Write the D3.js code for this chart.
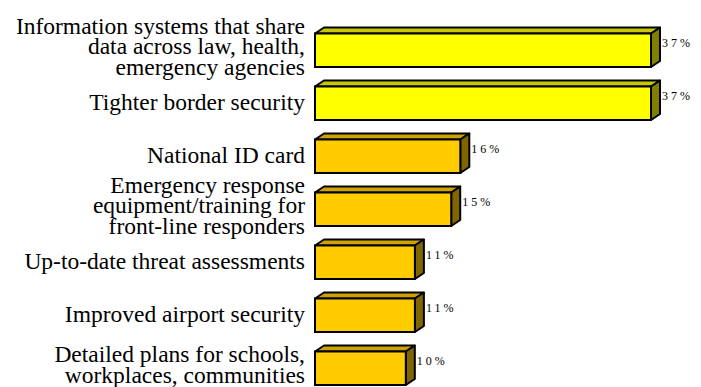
<!DOCTYPE html>
<html>
<head>
<meta charset="utf-8">
<script src="https://cdn.jsdelivr.net/npm/d3@7"></script>
<style>
  body { margin: 0; background: #fff; }
  svg { display: block; }
  text { font-family: "Liberation Serif", "Times New Roman", serif; fill: #000; }
</style>
</head>
<body>
<svg id="chart" width="701" height="387"></svg>
<script>
const categories = [
  'Information systems that share|data across law, health,|emergency agencies',
  'Tighter border security',
  'National ID card',
  'Emergency response|equipment/training for|front-line responders',
  'Up-to-date threat assessments',
  'Improved airport security',
  'Detailed plans for schools,|workplaces, communities'
];
const values = [37, 37, 16, 15, 11, 11, 10];
const highlight = [true, true, false, false, false, false, false];

const svg = d3.select('#chart');

const x = d3.scaleLinear().domain([0, 37]).range([315, 651]);
const y = d3.scaleBand()
  .domain(d3.range(categories.length))
  .range([33.5, 385])
  .paddingInner(0.368)
  .paddingOuter(0);

const dx = 9;  // depth offset
const dy = 6;

const colors = {
  hi: { front: '#ffff00', top: '#c8c800', side: '#808000' },
  lo: { front: '#ffcc00', top: '#cca300', side: '#806600' }
};

const bars = svg.append('g').selectAll('g')
  .data(values)
  .join('g');

bars.each(function (v, i) {
  const g = d3.select(this);
  const c = highlight[i] ? colors.hi : colors.lo;
  const x0 = x(0);
  const x1 = x(v);
  const yt = y(i);
  const yb = yt + y.bandwidth();

  // top face
  g.append('path')
    .attr('d', `M${x0},${yt}L${x0 + dx},${yt - dy}L${x1 + dx},${yt - dy}L${x1},${yt}Z`)
    .attr('fill', c.top).attr('stroke', '#000').attr('stroke-width', 2).attr('stroke-linejoin', 'round');
  // side face
  g.append('path')
    .attr('d', `M${x1},${yt}L${x1 + dx},${yt - dy}L${x1 + dx},${yb - dy}L${x1},${yb}Z`)
    .attr('fill', c.side).attr('stroke', '#000').attr('stroke-width', 2).attr('stroke-linejoin', 'round');
  // front face
  g.append('rect')
    .attr('x', x0).attr('y', yt)
    .attr('width', x1 - x0).attr('height', yb - yt)
    .attr('fill', c.front).attr('stroke', '#000').attr('stroke-width', 2);

  g.append('text')
    .attr('x', x1 + dx + 2)
    .attr('y', yt + 13)
    .attr('font-size', 12)
    .attr('letter-spacing', 3)
    .text(v + '%');
});

// category labels
const lineH = 20.7;
svg.append('g').selectAll('text')
  .data(categories)
  .join('text')
  .attr('text-anchor', 'end')
  .attr('font-size', 23.5)
  .attr('x', 305)
  .each(function (d, i) {
    const lines = d.split('|');
    const cy = y(i) + y.bandwidth() / 2;
    const start = cy - (lines.length - 1) * lineH / 2 + (lines.length > 1 ? 4 : 7);
    d3.select(this).selectAll('tspan')
      .data(lines)
      .join('tspan')
      .attr('x', 305)
      .attr('y', (l, j) => start + j * lineH)
      .text(l => l);
  });
</script>
</body>
</html>
